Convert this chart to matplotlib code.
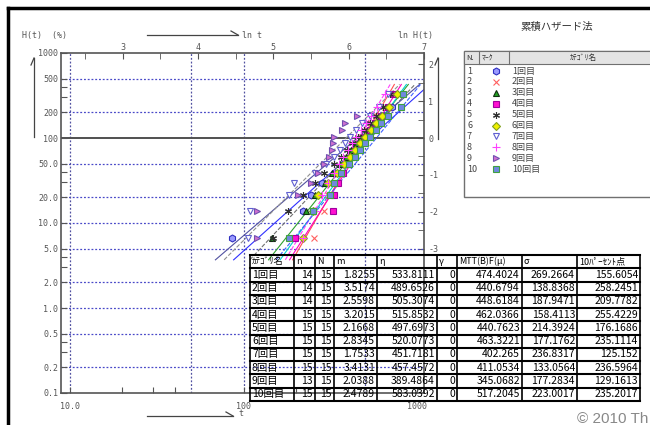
import numpy as np
import matplotlib.pyplot as plt
from matplotlib.patches import Rectangle

plt.rcParams['font.family'] = ['Noto Sans CJK JP', 'DejaVu Sans']

# cumulative hazard H(t) in %, by failure order (N = 15)
hazard_pct = [6.67, 13.81, 21.50, 29.84, 38.93, 48.93, 60.04, 72.54, 86.82,
              103.49, 123.49, 148.49, 181.82, 231.82, 331.82]

categories = ['1回目', '2回目', '3回目', '4回目', '5回目',
              '6回目', '7回目', '8回目', '9回目', '10回目']

# failure times (hours)
t1 = [86, 221, 245, 284, 337, 376, 403, 433, 464, 503, 545, 590, 639, 721]
t2 = [255, 290, 305, 337, 365, 388, 412, 433, 455, 483, 513, 545, 590, 652]
t3 = [145, 228, 257, 293, 324, 358, 388, 416, 446, 478, 518, 561, 614, 679]
t4 = [198, 327, 330, 351, 376, 399, 424, 446, 473, 503, 534, 573, 620, 679, 735]
t5 = [148, 180, 221, 257, 290, 330, 365, 395, 424, 455, 493, 534, 578, 633, 699]
t6 = [219, 250, 268, 305, 344, 380, 412, 441, 469, 503, 539, 578, 626, 685, 765]
t7 = [106, 109, 183, 194, 257, 299, 330, 358, 384, 412, 446, 483, 534, 602, 679]
t8 = [221, 257, 284, 308, 330, 354, 376, 399, 424, 446, 473, 508, 545, 590, 652]
t9 = [119, 120, 206, 245, 270, 290, 311, 324, 327, 330, 369, 384, 450]
t10 = [183, 252, 314, 330, 365, 403, 437, 469, 503, 534, 578, 620, 679, 812, 829]
times = [t1, t2, t3, t4, t5, t6, t7, t8, t9, t10]

n_fail = [14, 14, 14, 15, 15, 15, 15, 15, 13, 15]
n_total = [15, 15, 15, 15, 15, 15, 15, 15, 15, 15]
m_vals = [1.8255, 3.5174, 2.5598, 3.2015, 2.1668, 2.8345, 1.7533, 3.4131, 2.0388, 2.4789]
eta_vals = [533.8111, 489.6526, 505.3074, 515.8532, 497.6973, 520.0773, 451.7181,
            457.4572, 389.4864, 583.0392]
gamma_vals = [0, 0, 0, 0, 0, 0, 0, 0, 0, 0]
mttf_vals = [474.4024, 440.6794, 448.6184, 462.0366, 440.7623, 463.3221, 402.265,
             411.0534, 345.0682, 517.2045]
sigma_vals = [269.2664, 138.8368, 187.9471, 158.4113, 214.3924, 177.1762, 236.8317,
              133.0564, 177.2834, 223.0017]
p10_vals = [155.6054, 258.2451, 209.7782, 255.4229, 176.1686, 235.1114, 125.152,
            236.5964, 129.1613, 235.2017]

left_vals = [1000, 500, 200, 100, 50, 20, 10, 5, 2, 1, 0.5, 0.2, 0.1]
left_labels = ['1000', '500', '200', '100', '50.0', '20.0', '10.0', '5.0', '2.0',
               '1.0', '0.5', '0.2', '0.1']
grid_h = [500, 200, 50, 20, 10, 5, 2, 1, 0.5, 0.2]
grid_v = [10, 50, 100, 500]

# marker / line styles per series
styles = [
    dict(marker='h', mfc='#9a9aff', mec='#3030c0', ms=5, lc='#3030ff', ls='-'),
    dict(marker='x', mfc='#ff7070', mec='#ff6060', ms=5, lc='#ff5050', ls='-'),
    dict(marker='^', mfc='#20a020', mec='#103010', ms=5, lc='#30a030', ls='-'),
    dict(marker='s', mfc='#ff10d0', mec='#a000a0', ms=5, lc='#ff00c0', ls='-'),
    dict(marker=(6, 2, 0), mfc='#303030', mec='#303030', ms=5, lc='#707070', ls='--'),
    dict(marker='D', mfc='#f0f000', mec='#80a020', ms=4, lc='#00d0d0', ls='-'),
    dict(marker='v', mfc='white', mec='#6060d0', ms=5, lc='#5050a0', ls='-'),
    dict(marker='+', mfc='#ff40ff', mec='#ff40ff', ms=6, lc='#ff40ff', ls='--'),
    dict(marker='>', mfc='#d070d0', mec='#7050b0', ms=5, lc='#909090', ls='--'),
    dict(marker='s', mfc='#7088e0', mec='#40a040', ms=5, lc='#4060ff', ls='--'),
]

W, H = 650, 425
fig = plt.figure(figsize=(6.5, 4.25), dpi=100)


def box(x0, y0, x1, y1):
    return [x0 / W, 1 - y1 / H, (x1 - x0) / W, (y1 - y0) / H]


ax = fig.add_axes(box(61, 53, 424, 393))
ax.set_xlim(np.log(8.85), 7.0)
ax.set_ylim(np.log(0.001), np.log(10))

for v in grid_h:
    ax.axhline(np.log(v / 100), color='#4848c8', ls=(0, (1.5, 1.5)), lw=0.9, zorder=1)
for v in grid_v:
    ax.axvline(np.log(v), color='#5050a0', ls=(0, (1.5, 1.5)), lw=0.9, zorder=1)
ax.axhline(0, color='#505050', lw=1.4, zorder=1)

lnH_span = np.array([-3.3, 1.45])
for i in range(10):
    st = styles[i]
    ln_t = np.log(eta_vals[i]) + lnH_span / m_vals[i]
    ax.plot(ln_t, lnH_span, color=st['lc'], ls=st['ls'], lw=0.8, zorder=2)
for i in range(10):
    st = styles[i]
    hz = np.array(hazard_pct[:n_fail[i]]) / 100
    ax.plot(np.log(times[i]), np.log(hz), ls='none', marker=st['marker'],
            mfc=st['mfc'], mec=st['mec'], ms=st['ms'], mew=0.8, zorder=3)

mono = dict(family='DejaVu Sans Mono', size=6, color='#555555')

ax.set_xticks(np.log([10, 100, 1000]))
ax.set_xticklabels(['10.0', '100', '1000'], **mono)
ax.set_xticks(np.log([20, 30, 40, 200, 300, 400]), minor=True)
ax.set_yticks(np.log(np.array(left_vals) / 100))
ax.set_yticklabels(left_labels, **mono)
ax.set_yticks(np.log(np.array([400, 300, 40, 30, 4, 3, 0.4, 0.3]) / 100), minor=True)
ax.tick_params(which='both', direction='in', color='#555555', length=4, width=0.8, pad=2)
ax.tick_params(axis='x', pad=6.5)
for s in ax.spines.values():
    s.set_color('#555555')
    s.set_linewidth(1.2)

secx = ax.secondary_xaxis('top')
secx.set_xticks([3, 4, 5, 6, 7])
secx.set_xticklabels(['3', '4', '5', '6', '7'], **mono)
secx.set_xticks(np.arange(2.5, 7.01, 0.5), minor=True)
secx.tick_params(which='both', direction='in', color='#555555', length=4, pad=1)
secx.spines['top'].set_visible(False)

secy = ax.secondary_yaxis('right')
secy.set_yticks([2, 1, 0, -1, -2, -3])
secy.set_yticklabels(['2', '1', '0', '-1', '-2', '-3'], **mono)
secy.set_yticks(np.arange(-2.5, 2.01, 0.5), minor=True)
secy.tick_params(which='both', direction='in', color='#555555', length=4, pad=3)
secy.spines['right'].set_visible(False)

# overlay in pixel coordinates for annotations, legend panel and table
ov = fig.add_axes([0, 0, 1, 1], zorder=5)
ov.set_xlim(0, W)
ov.set_ylim(H, 0)
ov.axis('off')

ov.plot([8, 8], [8, H], color='black', lw=2.5)
ov.plot([8, W], [8, 8], color='black', lw=2.5)

ov.text(22, 35, 'H(t)  (%)', va='center', **mono)
ov.text(242, 35, 'ln t', va='center', **mono)
ov.text(398, 35, 'ln H(t)', va='center', **mono)
ov.text(238, 414, 't', va='center', **mono)
arrow_kw = dict(color='#444444', lw=0.9)
ov.plot([147, 238], [35, 35], **arrow_kw)
ov.plot([231, 238], [31, 35], **arrow_kw)
ov.plot([147, 233], [416, 416], **arrow_kw)
ov.plot([226, 233], [412, 416], **arrow_kw)
ov.plot([34, 34], [137, 58], **arrow_kw)
ov.plot([31, 34], [65, 58], **arrow_kw)
ov.plot([438, 438], [139, 58], **arrow_kw)
ov.plot([435, 438], [65, 58], **arrow_kw)

# legend panel
ov.text(557, 27, '累積ハザード法', ha='center', va='center', fontsize=7.5, color='#333333')
ov.add_patch(Rectangle((464, 51), 200, 146, fc='white', ec='#707070', lw=1.0))
ov.add_patch(Rectangle((464, 51), 200, 13, fc='#e4e4e4', ec='#707070', lw=0.8))
ov.plot([479, 479], [51, 64], color='#707070', lw=0.8)
ov.plot([509, 509], [51, 64], color='#707070', lw=0.8)
ov.text(466, 57.5, 'N.', va='center', fontsize=5.5, color='#333333')
ov.text(482, 57.5, 'ﾏｰｸ', va='center', fontsize=5.5, color='#333333')
ov.text(583, 57.5, 'ｶﾃｺﾞﾘ名', ha='center', va='center', fontsize=5.5, color='#333333')
for i in range(10):
    y = 71 + 10.9 * i
    st = styles[i]
    ov.text(467, y, str(i + 1), va='center', fontsize=6.5, color='#444444')
    ov.plot([496], [y], marker=st['marker'], mfc=st['mfc'], mec=st['mec'],
            ms=st['ms'], mew=0.8)
    ov.text(512, y, categories[i], va='center', fontsize=6.5, color='#444444')

# result table


def fmt(v):
    return ('%.4f' % v).rstrip('0').rstrip('.')


col_edges = [250, 294, 315, 334, 377, 437, 457, 522, 577, 640]
row_top, row_h = 255, 13.25
headers = ['ｶﾃｺﾞﾘ名', 'n', 'N', 'm', 'η', 'γ', 'MTT(B)F(μ)', 'σ', '10ﾊﾟｰｾﾝﾄ点']
rows = []
for i in range(10):
    rows.append([categories[i], str(n_fail[i]), str(n_total[i]), fmt(m_vals[i]),
                 fmt(eta_vals[i]), str(gamma_vals[i]), fmt(mttf_vals[i]),
                 fmt(sigma_vals[i]), fmt(p10_vals[i])])

n_rows = len(rows) + 1
bottom = row_top + row_h * n_rows
for k in range(n_rows + 1):
    y = row_top + row_h * k
    ov.plot([col_edges[0], col_edges[-1]], [y, y], color='black', lw=1.5)
for x in col_edges:
    ov.plot([x, x], [row_top, bottom], color='black', lw=1.2)

for j, h in enumerate(headers):
    ov.text(col_edges[j] + 2, row_top + row_h / 2, h, va='center', fontsize=6.5)
for r, row in enumerate(rows):
    yc = row_top + row_h * (r + 1.5)
    for j, val in enumerate(row):
        if j == 0:
            ov.text(col_edges[0] + 2, yc, val, va='center', fontsize=7.5)
        else:
            ov.text(col_edges[j + 1] - 2, yc, val, ha='right', va='center', fontsize=7.5)

ov.text(577, 423, '© 2010 Th', fontsize=11, color='#888888', family='Liberation Sans',
        va='baseline')

fig.savefig('out.png', dpi=100)
